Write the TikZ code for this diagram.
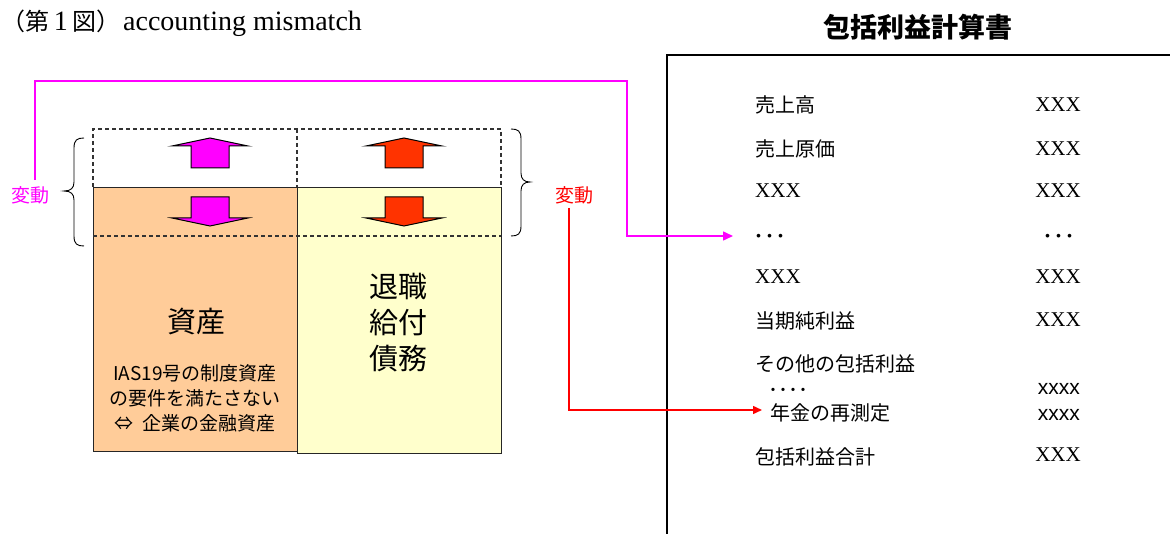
\documentclass[tikz,border=0pt]{standalone}
\usepackage{fontspec}
\setmainfont{Liberation Serif}
\newfontfamily\cjk{Noto Sans CJK JP}
\newfontfamily\lsans{Liberation Sans}
\usetikzlibrary{arrows.meta}
\definecolor{mag}{HTML}{FF00FF}
\definecolor{redor}{HTML}{FF3300}
\definecolor{redl}{HTML}{FF0000}
\definecolor{boxor}{HTML}{FFCC99}
\definecolor{boxye}{HTML}{FFFFCC}
\newcommand\UpBlk[2]{\filldraw[fill=#2, draw=black, line width=1pt, line join=miter]
  (#1,138) -- (#1+38,146) -- (#1+19,146) -- (#1+19,168) -- (#1-19,168) -- (#1-19,146) -- (#1-38,146) -- cycle;}
\newcommand\DnBlk[2]{\filldraw[fill=#2, draw=black, line width=1pt, line join=miter]
  (#1,226) -- (#1+38,218) -- (#1+19,218) -- (#1+19,197) -- (#1-19,197) -- (#1-19,218) -- (#1-38,218) -- cycle;}
\begin{document}
\begin{tikzpicture}[x=1pt,y=-1pt,
  dashln/.style={draw=black!80, line width=1.1pt, dash pattern=on 4pt off 3pt},
  boxln/.style={draw=black!85, line width=1pt},
  jp/.style={font=\cjk\fontsize{20}{24}\selectfont, inner sep=0pt},
  jpbig/.style={font=\cjk\fontsize{29}{36}\selectfont, inner sep=0pt, align=center},
  jpsmall/.style={font=\cjk\fontsize{19}{25}\selectfont, inner sep=0pt, align=center},
  ser/.style={font=\fontsize{21}{24}\selectfont, inner sep=0pt},
  sml/.style={font=\lsans\fontsize{21}{24}\selectfont, inner sep=0pt},
  dots/.style={font=\cjk\fontsize{22}{24}\selectfont, inner sep=0pt},
  hen/.style={font=\cjk\fontsize{19}{22}\selectfont, inner sep=0pt},
  ttlfont/.style={inner sep=0pt, font=\fontsize{28}{30}\selectfont},
  magln/.style={draw=mag, line width=1.5pt, -{Triangle[length=10pt,width=9pt]}},
  redln/.style={draw=redl, line width=1.5pt, -{Triangle[length=9pt,width=8pt]}},
  brc/.style={draw=black, line width=0.9pt}
]
\useasboundingbox (0,0) rectangle (1170,534);

% titles
\node[ttlfont, anchor=base west] (ttl) at (1,31) {{\cjk\fontsize{24}{28}\selectfont （第}\,1\,{\cjk\fontsize{24}{28}\selectfont 図）}};
\node[ttlfont, anchor=base west] (ttlb) at (123,31) {accounting mismatch};
\node[inner sep=0pt, font=\cjk\bfseries\fontsize{27}{30}\selectfont] (ttl2) at (918,27) {包括利益計算書};

% statement frame
\draw[line width=1.5pt] (667,534) -- (667,55) -- (1170,55);

% boxes
\node[boxln, fill=boxor, minimum width=204pt, minimum height=264pt, anchor=north west, inner sep=0pt] (asset) at (93,187) {};
\node[boxln, fill=boxye, minimum width=204pt, minimum height=266pt, anchor=north west, inner sep=0pt] (dbo) at (297,187) {};
\draw[dashln] (93,187) -- (93,129) -- (501,129) -- (501,187);
\draw[dashln] (297,129) -- (297,187);
\draw[dashln] (93,236) -- (501,236);

% block arrows
\UpBlk{210}{mag}
\UpBlk{404}{redor}
\DnBlk{210}{mag}
\DnBlk{404}{redor}

% box texts
\node[jpbig] (t1) at (196,322) {資産};
\node[jpsmall] (t2) at (195,398) {IAS19号の制度資産\\の要件を満たさない\\⇔\ \ 企業の金融資産};
\node[jpbig] (t3) at (398,323) {退職\\給付\\債務};

% braces
\draw[brc] (84,138) .. controls (77,138) and (74,140) .. (74,148) -- (74,182)
  .. controls (74,188) and (71,191) .. (64,191) .. controls (71,191) and (74,194) .. (74,200)
  -- (74,236) .. controls (74,244) and (77,246) .. (84,246);
\draw[brc] (511,129) .. controls (518,129) and (521,131) .. (521,139) -- (521,173)
  .. controls (521,179) and (524,182) .. (530,182) .. controls (524,182) and (521,185) .. (521,191)
  -- (521,226) .. controls (521,234) and (518,236) .. (511,236);

% labels
\node[hen, text=mag] (hen1) at (30,195) {変動};
\node[hen, text=redl] (hen2) at (574,195) {変動};

% statement rows
\node[jp, anchor=west] (r1) at (755,105) {売上高};
\node[ser, anchor=east] (v1) at (1081,105) {XXX};
\node[jp, anchor=west] (r2) at (755,149) {売上原価};
\node[ser, anchor=east] (v2) at (1081,149) {XXX};
\node[ser, anchor=west] (r3) at (755,191) {XXX};
\node[ser, anchor=east] (v3) at (1081,191) {XXX};
\node[dots] (r4) at (770,239) {･･･};
\node[dots] (v4) at (1059,239) {･･･};
\node[ser, anchor=west] (r5) at (755,277) {XXX};
\node[ser, anchor=east] (v5) at (1081,277) {XXX};
\node[jp, anchor=west] (r6) at (755,321) {当期純利益};
\node[ser, anchor=east] (v6) at (1081,320) {XXX};
\node[jp, anchor=west] (r7) at (755,364) {その他の包括利益};
\node[dots, font=\cjk\fontsize{20}{24}\selectfont] (r8) at (788,393) {････};
\node[sml, anchor=east] (v8) at (1080,389) {xxxx};
\node[jp, anchor=west] (r9) at (770,413) {年金の再測定};
\node[sml, anchor=east] (v9) at (1080,415) {xxxx};
\node[jp, anchor=west] (r10) at (755,457) {包括利益合計};
\node[ser, anchor=east] (v10) at (1081,455) {XXX};

% connectors
\coordinate (m1) at (627,81);
\coordinate (a1) at (733,236);
\coordinate (a2) at (762,410);
\draw[magln] ([xshift=5pt,yshift=6pt]hen1.north) |- (m1) |- (a1);
\draw[redln] ([xshift=-5pt,yshift=-4pt]hen2.south) |- (a2);
\end{tikzpicture}
\end{document}
